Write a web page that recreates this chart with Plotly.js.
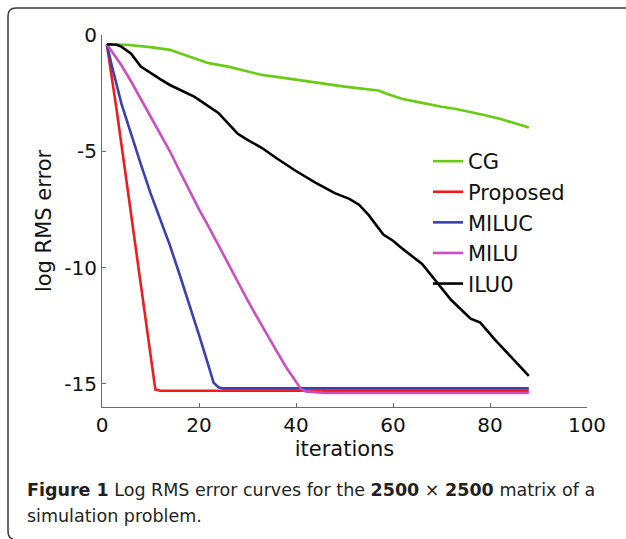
<!DOCTYPE html>
<html>
<head>
<meta charset="utf-8">
<script src="https://cdn.plot.ly/plotly-3.0.1.min.js"></script>
<style>
html,body{margin:0;padding:0;background:#fff;}
#chart{width:626px;height:539px;}
</style>
</head>
<body>
<div id="chart"></div>
<script>
// ---- data ----
const seriesNames = ["CG", "Proposed", "MILUC", "MILU", "ILU0"];

const cgIter = [1,5,10,14,19,22,26,30,33,36,40,45,50,54,57,59,62,66,70,73,76,79,82,85,88];
const cgErr  = [-0.4,-0.42,-0.52,-0.64,-1.0,-1.21,-1.36,-1.57,-1.72,-1.8,-1.93,-2.07,-2.22,-2.32,-2.39,-2.55,-2.75,-2.92,-3.09,-3.18,-3.3,-3.45,-3.6,-3.78,-3.98];

const propIter = [1,2,3,4,5,6,7,8,9,10,11,12,88];
const propErr  = [-0.4,-1.7,-3.2,-4.7,-6.2,-7.7,-9.2,-10.8,-12.3,-13.8,-15.25,-15.3,-15.3];

const milucIter = [1,2,4,6,8,10,12,14,16,18,20,22,23,24,25,88];
const milucErr  = [-0.4,-1.3,-2.95,-4.3,-5.55,-6.8,-7.95,-9.05,-10.3,-11.55,-12.9,-14.25,-14.95,-15.15,-15.2,-15.2];

const miluIter = [1,2,4,6,8,10,12,14,16,18,20,22,24,26,28,30,32,34,36,38,40,41,42,44,46,88];
const miluErr  = [-0.4,-0.7,-1.3,-2.0,-2.75,-3.45,-4.2,-5.0,-5.85,-6.7,-7.5,-8.25,-9.05,-9.85,-10.65,-11.4,-12.15,-12.9,-13.6,-14.3,-14.95,-15.22,-15.33,-15.38,-15.4,-15.4];

const ilu0Iter = [1,3,4,6,8,10,12,14,17,19,21,24,26,28,30,33,36,40,44,48,51,53,55,58,60,62,66,69,72,76,78,81,83,85,88];
const ilu0Err  = [-0.4,-0.42,-0.5,-0.8,-1.36,-1.64,-1.9,-2.15,-2.43,-2.65,-2.93,-3.35,-3.8,-4.25,-4.51,-4.86,-5.3,-5.85,-6.35,-6.8,-7.05,-7.3,-7.75,-8.58,-8.85,-9.2,-9.85,-10.6,-11.4,-12.2,-12.37,-13.1,-13.55,-14.0,-14.66];

const xTicks = [0,20,40,60,80,100];
const yTicks = [0,-5,-10,-15];

const xTitle = "iterations";
const yTitle = "log RMS error";
const captionLine1 = "<b>Figure 1</b> Log RMS error curves for the <b>2500</b> × <b>2500</b> matrix of a";
const captionLine2 = "simulation problem.";

// ---- styling ----
const colors = ["#6acb14", "#ee1c1c", "#3b3fb2", "#c94fc2", "#000000"];
const xs = [cgIter, propIter, milucIter, miluIter, ilu0Iter];
const ys = [cgErr, propErr, milucErr, miluErr, ilu0Err];

const W = 626, H = 539;
const M = {l:102, r:39, t:35, b:132};
const pw = W - M.l - M.r, ph = H - M.t - M.b;
function px2x(p){ return (p - M.l) / pw; }
function px2y(p){ return (H - M.b - p) / ph; }

const traces = seriesNames.map((n, i) => ({
  x: xs[i], y: ys[i], name: n, type: "scatter", mode: "lines",
  legendgroup: n,
  line: {color: colors[i], width: 2.6}
}));

const FAM = "'DejaVu Sans', Verdana, sans-serif";
const tickFont = {family: FAM, size: 20, color: "#111"};
const labFont = {family: FAM, size: 21, color: "#111"};
const capFont = {family: FAM, size: 17.5, color: "#231f20"};

// frame path (top + left edges with rounded corners)
const framePath = "M" + px2x(626) + "," + px2y(8) +
  " L" + px2x(16) + "," + px2y(8) +
  " Q" + px2x(8) + "," + px2y(8) + " " + px2x(8) + "," + px2y(16) +
  " L" + px2x(8) + "," + px2y(531) +
  " Q" + px2x(8) + "," + px2y(538) + " " + px2x(13) + "," + px2y(539);

const layout = {
  width: W, height: H,
  margin: M,
  paper_bgcolor: "#fff", plot_bgcolor: "#fff",
  font: tickFont,
  showlegend: true,
  legend: {
    x: px2x(428), y: px2y(141), xanchor: "left", yanchor: "top",
    bgcolor: "rgba(0,0,0,0)", borderwidth: 0,
    font: labFont, tracegroupgap: 0.3
  },
  xaxis: {
    range: [0, 100], tickvals: xTicks, ticktext: xTicks.map(String),
    showline: true, linecolor: "#6b6b6b", linewidth: 1,
    ticks: "inside", ticklen: 4, tickcolor: "#6b6b6b",
    showgrid: false, zeroline: false, tickfont: tickFont,
    title: {text: xTitle, font: labFont, standoff: 5}
  },
  yaxis: {
    range: [-16, 0], tickvals: yTicks, ticktext: yTicks.map(String),
    showline: true, linecolor: "#6b6b6b", linewidth: 1,
    ticks: "inside", ticklen: 4, tickcolor: "#6b6b6b",
    showgrid: false, zeroline: false, tickfont: tickFont,
    title: {text: yTitle, font: labFont, standoff: 6}
  },
  shapes: [{
    type: "path", xref: "paper", yref: "paper", path: framePath,
    line: {color: "#3a3a3a", width: 1.5}
  }],
  annotations: [
    {xref: "paper", yref: "paper", x: px2x(25), y: px2y(490), xanchor: "left", yanchor: "middle",
     showarrow: false, text: captionLine1, font: capFont},
    {xref: "paper", yref: "paper", x: px2x(25), y: px2y(516), xanchor: "left", yanchor: "middle",
     showarrow: false, text: captionLine2, font: capFont}
  ]
};

Plotly.newPlot("chart", traces, layout, {displayModeBar: false, staticPlot: true});
</script>
</body>
</html>
